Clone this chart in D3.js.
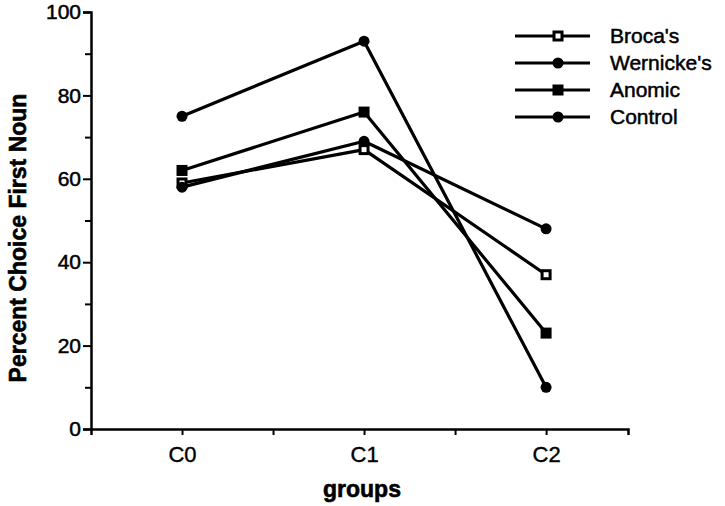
<!DOCTYPE html>
<html><head><meta charset="utf-8">
<script src="https://cdn.jsdelivr.net/npm/d3@7/dist/d3.min.js"></script>
<style>body{margin:0;background:#fff}svg{display:block}text{font-family:"Liberation Sans",Arial,sans-serif;fill:#000}</style>
</head><body><svg id="c" width="725" height="506"></svg>
<script>
const categories = ["C0","C1","C2"];
const seriesNames = ["Broca's","Wernicke's","Anomic","Control"];
const broca = [59, 67, 37];
const wernicke = [58, 69, 48];
const anomic = [62, 76, 23];
const control = [75, 93, 10];
const yTicks = [0,20,40,60,80,100];
const yMinor = [10,30,50,70,90];
const markers = ["openSquare","circle","square","circle"];

const series = [broca, wernicke, anomic, control].map((v,i)=>({name:seriesNames[i], values:v, marker:markers[i]}));

const svg = d3.select("#c");
const x = d3.scaleLinear().domain([0.5, 3.45]).range([91, 628]);
const y = d3.scaleLinear().domain([0, 100]).range([429, 12]);

// Axes
const gy = svg.append("g").attr("transform","translate(91,0)");
gy.call(d3.axisLeft(y).tickValues(yTicks).tickSize(8).tickPadding(2).tickFormat(d3.format("d")));
const gym = gy.append("g").call(d3.axisLeft(y).tickValues(yMinor).tickSize(6).tickFormat(""));
gym.select(".domain").remove();
gy.selectAll(".domain").attr("stroke-width",2.5);
gy.selectAll(".tick line").attr("stroke-width",2);
gy.selectAll("text").style("font-size","21px").style("stroke","#000").style("stroke-width","0.5px");

const gx = svg.append("g").attr("transform","translate(0,429)");
gx.call(d3.axisBottom(x).tickValues([1,2,3]).tickSize(6).tickPadding(11).tickFormat((d,i)=>categories[i]));
const gxm = gx.append("g").call(d3.axisBottom(x).tickValues([1.5,2.5]).tickSize(6).tickFormat(""));
gxm.select(".domain").remove();
gx.selectAll(".domain").attr("stroke-width",2.5);
gx.selectAll(".tick line").attr("stroke-width",2);
gx.selectAll("text").style("font-size","22px").style("stroke","#000").style("stroke-width","0.4px");

// Axis titles
svg.append("text").attr("transform","translate(26,238) rotate(-90)").attr("text-anchor","middle")
  .style("font-size","23px").style("font-weight","bold").style("stroke","#000").style("stroke-width","0.6px").text("Percent Choice First Noun");
svg.append("text").attr("x",362).attr("y",497).attr("text-anchor","middle")
  .style("font-size","23px").style("font-weight","bold").style("stroke","#000").style("stroke-width","0.6px").text("groups");

const line = d3.line().x((d,i)=>x(i+1)).y(d=>y(d));

function drawMarker(g, type, cx, cy){
  if(type==="circle"){
    g.append("circle").attr("cx",cx).attr("cy",cy).attr("r",5.5).attr("fill","#000");
  } else if(type==="square"){
    g.append("rect").attr("x",cx-5.5).attr("y",cy-5.5).attr("width",11).attr("height",11).attr("fill","#000");
  } else {
    g.append("rect").attr("x",cx-4).attr("y",cy-4).attr("width",8).attr("height",8).attr("fill","#fff").attr("stroke","#000").attr("stroke-width",3);
  }
}

const gs = svg.append("g");
series.forEach(s=>{
  gs.append("path").attr("d",line(s.values)).attr("fill","none").attr("stroke","#000").attr("stroke-width",3.2).attr("stroke-linejoin","round");
});
series.forEach(s=>{
  s.values.forEach((v,i)=>drawMarker(gs, s.marker, x(i+1), y(v)));
});

// Legend
const legY = [36, 63, 90, 117];
series.forEach((s,i)=>{
  const g = svg.append("g");
  g.append("line").attr("x1",515).attr("x2",590).attr("y1",legY[i]).attr("y2",legY[i]).attr("stroke","#000").attr("stroke-width",3);
  drawMarker(g, s.marker, 558, legY[i]);
  g.append("text").attr("x",610).attr("y",legY[i]).attr("dy","0.35em").style("font-size","21px").style("stroke","#000").style("stroke-width","0.5px").text(s.name);
});
</script></body></html>
